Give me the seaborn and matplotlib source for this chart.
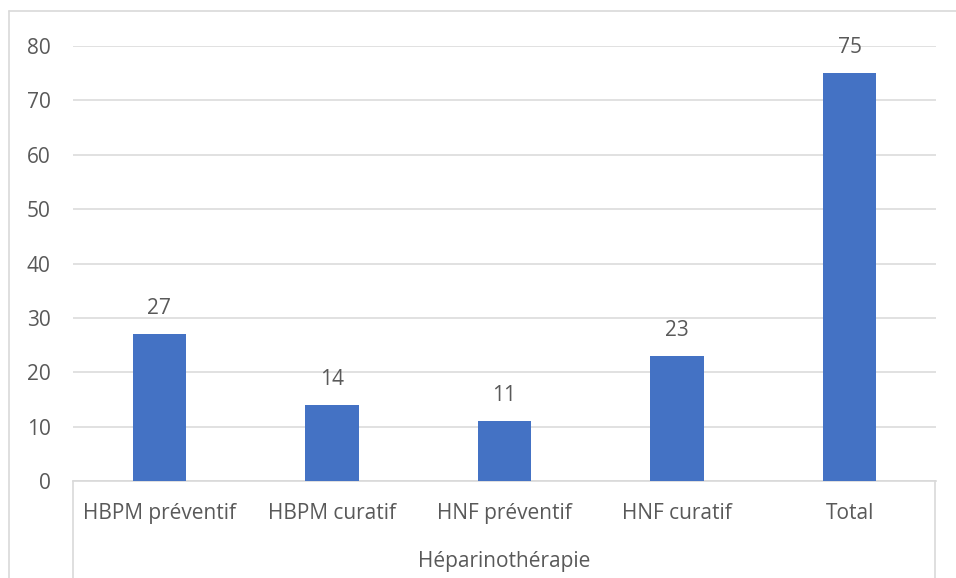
"""Héparinothérapie bar chart, Excel style."""

import matplotlib
matplotlib.use("Agg")
import matplotlib.pyplot as plt
import pandas as pd
import seaborn as sns
from matplotlib.lines import Line2D

categories = ["HBPM préventif", "HBPM curatif", "HNF préventif", "HNF curatif", "Total"]
counts = [27, 14, 11, 23, 75]
group_label = "Héparinothérapie"
y_ticks = [0, 10, 20, 30, 40, 50, 60, 70, 80]

W, H = 956, 578
TEXT = "#595959"
GRID = "#D9D9D9"
BAR = "#4472C4"
FS = 15

sns.set_theme(style="white")
plt.rcParams["font.family"] = ["Open Sans", "DejaVu Sans"]

fig = plt.figure(figsize=(W / 100, H / 100), dpi=100)
ax = fig.add_axes([73 / W, (H - 481) / H, (936 - 73) / W, (481 - 46) / H])

df = pd.DataFrame({"cat": categories, "n": counts})
sns.barplot(data=df, x="cat", y="n", color=BAR, width=0.31, saturation=1,
            linewidth=0, ax=ax, zorder=3)

ax.set_ylim(0, 80)
ax.set_yticks(y_ticks)
ax.set_xlim(-0.5, len(categories) - 0.5)
ax.yaxis.grid(True, color=GRID, linewidth=1.1, zorder=0)
ax.set_axisbelow(True)
for s in ["top", "right", "left"]:
    ax.spines[s].set_visible(False)
ax.spines["bottom"].set_color(GRID)
ax.spines["bottom"].set_linewidth(1.2)
ax.tick_params(axis="y", length=0, pad=16, labelsize=FS, labelcolor=TEXT)
ax.tick_params(axis="x", length=0, pad=16, labelsize=FS, labelcolor=TEXT)
ax.set_xlabel("")
ax.set_ylabel("")

# data labels
for i, v in enumerate(counts):
    ax.annotate(str(v), (i, v), xytext=(0, 11), textcoords="offset points",
                ha="center", va="bottom", fontsize=FS, color=TEXT)

# multi-level category box below the axis
for xp in (73, 935):
    fig.add_artist(Line2D([xp / W, xp / W], [0, (H - 481) / H], color=GRID, linewidth=1.2))
fig.text(504 / W, (H - 561) / H, group_label, ha="center", va="center", fontsize=FS, color=TEXT)

# chart area border
fig.add_artist(Line2D([9 / W, 1], [(H - 11) / H] * 2, color=GRID, linewidth=1.2))
fig.add_artist(Line2D([9 / W, 9 / W], [0, (H - 11) / H], color=GRID, linewidth=1.2))

fig.savefig("out.png", dpi=100)
